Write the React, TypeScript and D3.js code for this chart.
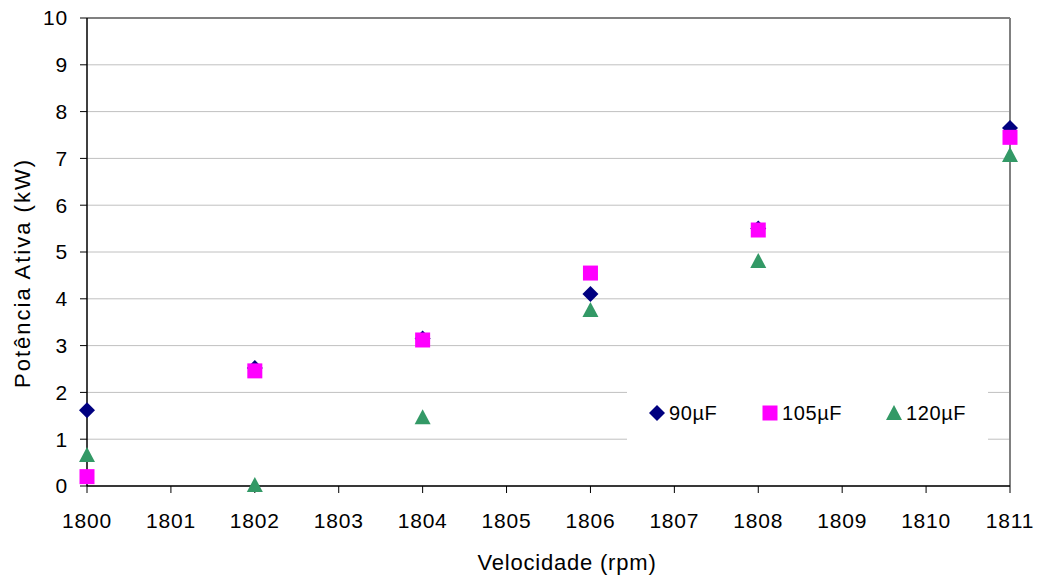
import React from "react";
import * as d3 from "d3";

const speeds = [1800, 1802, 1804, 1806, 1808, 1811];
const s90 = [1.62, 2.52, 3.15, 4.1, 5.5, 7.65];
const s105 = [0.2, 2.46, 3.12, 4.55, 5.47, 7.45];
const s120 = [0.66, 0.02, 1.47, 3.76, 4.81, 7.07];
const seriesNames = ["90µF", "105µF", "120µF"];
const xTicks = [1800, 1801, 1802, 1803, 1804, 1805, 1806, 1807, 1808, 1809, 1810, 1811];
const yTicks = [0, 1, 2, 3, 4, 5, 6, 7, 8, 9, 10];

const W = 1039, H = 579;
const L = 87, R = 1010, T = 18, B = 486;
const FONT = "'Liberation Sans', Arial, sans-serif";

const x = d3.scaleLinear().domain([1800, 1811]).range([L, R]);
const y = d3.scaleLinear().domain([0, 10]).range([B, T]);

const colors = ["#000080", "#ff00ff", "#339966"];

function Marker({ kind, cx, cy }: { kind: number; cx: number; cy: number }) {
  if (kind === 0) {
    const r = 8;
    return <path d={`M${cx},${cy - r}L${cx + r},${cy}L${cx},${cy + r}L${cx - r},${cy}Z`} fill={colors[0]} />;
  }
  if (kind === 1) {
    const h = 7.5;
    return <rect x={cx - h} y={cy - h} width={2 * h} height={2 * h} fill={colors[1]} />;
  }
  const w = 8, hh = 8;
  return <path d={`M${cx},${cy - hh}L${cx + w},${cy + hh - 1}L${cx - w},${cy + hh - 1}Z`} fill={colors[2]} />;
}

export default function App() {
  const data = [s90, s105, s120];
  return (
    <svg width={W} height={H} style={{ position: "absolute", left: 0, top: 0, background: "#fff" }}>
      <rect x={0} y={0} width={W} height={H} fill="#fff" />
      {yTicks.map((t) => (
        <line key={"g" + t} x1={L} x2={R} y1={y(t)} y2={y(t)} stroke="#c0c0c0" strokeWidth={1} />
      ))}
      <line x1={L} x2={R} y1={T} y2={T} stroke="#808080" strokeWidth={2} />
      <line x1={R} x2={R} y1={T} y2={B} stroke="#808080" strokeWidth={2} />
      <line x1={L} x2={L} y1={T} y2={B} stroke="#000" strokeWidth={1.5} />
      <line x1={L} x2={R} y1={B} y2={B} stroke="#000" strokeWidth={1.5} />
      {yTicks.map((t) => (
        <g key={"y" + t}>
          <line x1={L - 7} x2={L} y1={y(t)} y2={y(t)} stroke="#000" strokeWidth={1} />
          <text x={68} y={y(t)} dy="0.35em" textAnchor="end" fontFamily={FONT} fontSize={21} letterSpacing={0.8}>{t}</text>
        </g>
      ))}
      {xTicks.map((t) => (
        <g key={"x" + t}>
          <line x1={x(t)} x2={x(t)} y1={B} y2={B + 7} stroke="#000" strokeWidth={1} />
          <text x={x(t)} y={528} textAnchor="middle" fontFamily={FONT} fontSize={21} letterSpacing={0.8}>{t}</text>
        </g>
      ))}
      <text x={567} y={570} textAnchor="middle" fontFamily={FONT} fontSize={22} letterSpacing={0.8}>Velocidade (rpm)</text>
      <text transform={`translate(30,273) rotate(-90)`} textAnchor="middle" fontFamily={FONT} fontSize={22} letterSpacing={2}>Potência Ativa (kW)</text>
      <rect x={627} y={390} width={361} height={51} fill="#fff" />
      {data.map((s, k) =>
        s.map((v, i) => <Marker key={k + "-" + i} kind={k} cx={x(speeds[i])} cy={y(v)} />)
      )}
      {seriesNames.map((n, k) => {
        const lx = [657, 770, 894][k];
        return (
          <g key={n}>
            <Marker kind={k} cx={lx} cy={413} />
            <text x={lx + 12} y={413} dy="0.35em" fontFamily={FONT} fontSize={20} letterSpacing={0.6}>{n}</text>
          </g>
        );
      })}
    </svg>
  );
}
